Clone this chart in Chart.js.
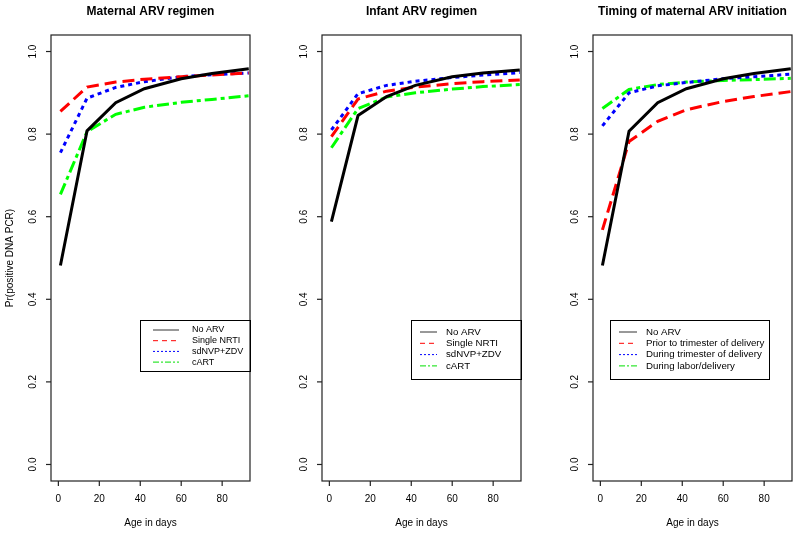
<!DOCTYPE html>
<html>
<head>
<meta charset="utf-8">
<script src="https://cdn.jsdelivr.net/npm/chart.js@4.4.1/dist/chart.umd.min.js"></script>
<style>
  body { margin: 0; background: #fff; }
  #wrap { position: relative; width: 800px; height: 535px; }
  canvas { position: absolute; top: 0; }
</style>
</head>
<body>
<div id="wrap">
  <canvas id="c0" width="271" height="535" style="left:0px"></canvas>
  <canvas id="c1" width="271" height="535" style="left:271px"></canvas>
  <canvas id="c2" width="258" height="535" style="left:542px"></canvas>
</div>
<script>
const days = [1, 14, 28, 42, 60, 75, 93];
const xTicks = [0, 20, 40, 60, 80];
const yTicks = [0, 0.2, 0.4, 0.6, 0.8, 1.0];
const yTickLabels = ['0.0', '0.2', '0.4', '0.6', '0.8', '1.0'];

const titles = ['Maternal ARV regimen', 'Infant ARV regimen', 'Timing of maternal ARV initiation'];
const regimenLabels = ['No ARV', 'Single NRTI', 'sdNVP+ZDV', 'cART'];
const timingLabels = ['No ARV', 'Prior to trimester of delivery', 'During trimester of delivery', 'During labor/delivery'];

// panel 1: maternal ARV regimen
const matNoArv = [0.482, 0.808, 0.876, 0.910, 0.934, 0.947, 0.958];
const matNrti  = [0.855, 0.914, 0.926, 0.933, 0.939, 0.943, 0.948];
const matSdnvp = [0.755, 0.887, 0.913, 0.927, 0.939, 0.944, 0.948];
const matCart  = [0.654, 0.806, 0.848, 0.865, 0.877, 0.884, 0.893];

// panel 2: infant ARV regimen
const infNoArv = [0.588, 0.845, 0.891, 0.918, 0.939, 0.948, 0.955];
const infNrti  = [0.794, 0.885, 0.904, 0.914, 0.922, 0.927, 0.931];
const infSdnvp = [0.810, 0.898, 0.918, 0.928, 0.937, 0.943, 0.949];
const infCart  = [0.767, 0.862, 0.890, 0.900, 0.909, 0.915, 0.920];

// panel 3: timing of maternal ARV initiation
const timNoArv  = [0.482, 0.807, 0.876, 0.910, 0.934, 0.947, 0.958];
const timPrior  = [0.568, 0.782, 0.831, 0.859, 0.879, 0.891, 0.903];
const timDuring = [0.820, 0.900, 0.917, 0.925, 0.934, 0.939, 0.945];
const timLabor  = [0.862, 0.908, 0.920, 0.926, 0.930, 0.932, 0.935];

const FONT = '"Liberation Sans", Arial, Helvetica, sans-serif';

const styles = [
  { color: '#000000', dash: [],            legendDash: [],          legendColor: '#333' },
  { color: '#ff0000', dash: [12, 6],       legendDash: [5, 4],      legendColor: '#ff0000' },
  { color: '#0000ff', dash: [4, 4],        legendDash: [2, 2],      legendColor: '#0000ff' },
  { color: '#00ff00', dash: [12, 4, 4, 4], legendDash: [6, 2, 2, 2], legendColor: '#00e000' }
];

function makePanel(id, title, series, labels, opt) {
  const canvas = document.getElementById(id);
  const W = canvas.width;

  const datasets = series.map((vals, i) => ({
    label: labels[i],
    data: days.map((d, j) => ({ x: d, y: vals[j] })),
    borderColor: styles[i].color,
    borderDash: styles[i].dash,
    borderWidth: 3,
    borderCapStyle: 'butt',
    pointRadius: 0,
    tension: 0,
    fill: false
  }));

  // axes, box, titles and legend drawn R-style
  const decor = {
    id: 'decor',
    afterDraw(chart) {
      const ctx = chart.ctx;
      const a = chart.chartArea;
      const xs = chart.scales.x, ys = chart.scales.y;
      ctx.save();
      ctx.strokeStyle = '#222';
      ctx.lineWidth = 1.2;
      ctx.setLineDash([]);
      ctx.strokeRect(a.left, a.top, a.right - a.left, a.bottom - a.top);

      ctx.fillStyle = '#000';
      ctx.font = '10px ' + FONT;
      // x ticks
      ctx.textAlign = 'center';
      ctx.textBaseline = 'middle';
      xTicks.forEach(t => {
        const px = xs.getPixelForValue(t);
        ctx.beginPath();
        ctx.moveTo(px, a.bottom);
        ctx.lineTo(px, a.bottom + 5);
        ctx.stroke();
        ctx.fillText(String(t), px, a.bottom + 18);
      });
      // y ticks, labels rotated like R
      yTicks.forEach((t, i) => {
        const py = ys.getPixelForValue(t);
        ctx.beginPath();
        ctx.moveTo(a.left, py);
        ctx.lineTo(a.left - 5, py);
        ctx.stroke();
        ctx.save();
        ctx.translate(a.left - 18, py);
        ctx.rotate(-Math.PI / 2);
        ctx.fillText(yTickLabels[i], 0, 0);
        ctx.restore();
      });
      // axis titles
      ctx.fillText('Age in days', (a.left + a.right) / 2, a.bottom + 42);
      if (opt.yLabel) {
        ctx.save();
        ctx.translate(10, (a.top + a.bottom) / 2);
        ctx.rotate(-Math.PI / 2);
        ctx.fillText('Pr(positive DNA PCR)', 0, 0);
        ctx.restore();
      }
      // main title
      ctx.font = 'bold 12px ' + FONT;
      ctx.fillText(title, (a.left + a.right) / 2, 12);

      // legend
      const lg = opt.legend;
      ctx.lineWidth = 1;
      ctx.strokeStyle = '#000';
      ctx.strokeRect(lg.x + 0.5, lg.y + 0.5, lg.w, lg.h);
      ctx.font = lg.font + 'px ' + FONT;
      ctx.textAlign = 'left';
      labels.forEach((lab, i) => {
        const ry = lg.y + lg.row0 + i * lg.step;
        ctx.strokeStyle = styles[i].legendColor;
        ctx.setLineDash(styles[i].legendDash);
        ctx.beginPath();
        ctx.moveTo(lg.x + lg.l0, ry);
        ctx.lineTo(lg.x + lg.l1, ry);
        ctx.stroke();
        ctx.setLineDash([]);
        ctx.fillStyle = '#000';
        ctx.fillText(lab, lg.x + lg.tx, ry);
      });
      ctx.restore();
    }
  };

  return new Chart(canvas.getContext('2d'), {
    type: 'line',
    data: { datasets },
    options: {
      responsive: false,
      animation: false,
      layout: { padding: { left: 51, right: W - 250, top: 35, bottom: 54 } },
      plugins: { legend: { display: false }, tooltip: { enabled: false } },
      scales: {
        x: { type: 'linear', min: -3.6, max: 93.6, display: false },
        y: { type: 'linear', min: -0.04, max: 1.04, display: false }
      }
    },
    plugins: [decor]
  });
}

makePanel('c0', titles[0], [matNoArv, matNrti, matSdnvp, matCart], regimenLabels, {
  yLabel: true,
  legend: { x: 140, y: 320, w: 110, h: 51, font: 9, row0: 10, step: 10.7, l0: 13, l1: 39, tx: 52 }
});
makePanel('c1', titles[1], [infNoArv, infNrti, infSdnvp, infCart], regimenLabels, {
  yLabel: false,
  legend: { x: 140, y: 320, w: 110, h: 59, font: 9.7, row0: 12, step: 11.3, l0: 9, l1: 26, tx: 35 }
});
makePanel('c2', titles[2], [timNoArv, timPrior, timDuring, timLabor], timingLabels, {
  yLabel: false,
  legend: { x: 68, y: 320, w: 159, h: 59, font: 9.7, row0: 12, step: 11.3, l0: 9, l1: 27, tx: 36 }
});
</script>
</body>
</html>
